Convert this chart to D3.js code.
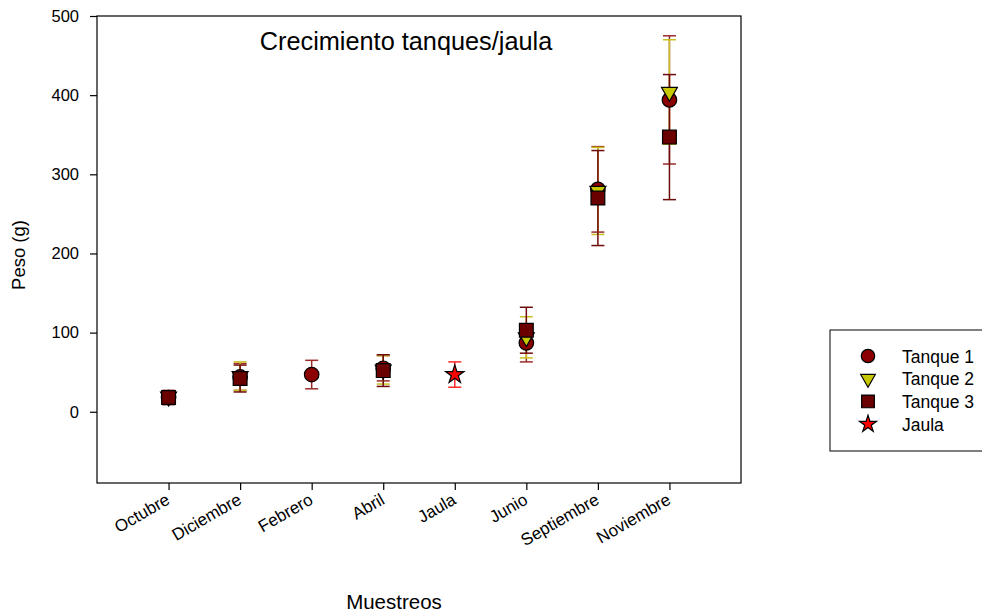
<!DOCTYPE html>
<html lang="es">
<head>
<meta charset="UTF-8">
<title>Crecimiento tanques/jaula</title>
<style>
    body { margin: 0; background: #fff; }
    svg { display: block; font-family: "Liberation Sans", Arial, sans-serif; }
</style>
</head>
<body>
<div id="chart"></div>
<script src="https://cdn.jsdelivr.net/npm/d3@7"></script>
<script>
// categories along the x axis
const categories = ["Octubre", "Diciembre", "Febrero", "Abril", "Jaula", "Junio", "Septiembre", "Noviembre"];

// mean weights (g) and error for each group, null = not sampled
const tanque1 = [18, 44, 47, 55, null, 87, 281, 394];
const tanque1Err = [7, 17, 18, 16, null, 24, 54, 81];
const tanque2 = [19, 45, null, 53, null, 94, 279, 404];
const tanque2Err = [7, 18, null, 18, null, 26, 55, 66];
const tanque3 = [18, 42, null, 52, null, 103, 270, 347];
const tanque3Err = [9, 17, null, 20, null, 29, 60, 79];
const jaula = [null, null, null, null, 47, null, null, null];
const jaulaErr = [null, null, null, null, 16, null, null, null];

const yTicks = [0, 100, 200, 300, 400, 500];

const series = [
    { name: "Tanque 1", values: tanque1, err: tanque1Err, fill: "#8b0000", bar: "#9a2b2b", symbol: d3.symbolCircle, size: 165, rotate: 0 },
    { name: "Tanque 2", values: tanque2, err: tanque2Err, fill: "#c8c800", bar: "#c8c020", symbol: d3.symbolTriangle, size: 110, rotate: 180 },
    { name: "Tanque 3", values: tanque3, err: tanque3Err, fill: "#6b0000", bar: "#6e0a0a", symbol: d3.symbolSquare, size: 190, rotate: 0 },
    { name: "Jaula", values: jaula, err: jaulaErr, fill: "#ff0000", bar: "#ff2a2a", symbol: d3.symbolStar, size: 105, rotate: 0 }
];

const svg = d3.select("#chart").append("svg")
    .attr("width", 982)
    .attr("height", 613);

const plotLeft = 97, plotRight = 741, plotTop = 16, plotBottom = 483;

const x = d3.scaleLinear().domain([0, categories.length + 1]).range([plotLeft, plotRight]);
const y = d3.scaleLinear().domain([-90, 500]).range([plotBottom, plotTop]);

// frame
svg.append("rect")
    .attr("x", plotLeft).attr("y", plotTop)
    .attr("width", plotRight - plotLeft).attr("height", plotBottom - plotTop)
    .attr("fill", "none").attr("stroke", "#000").attr("stroke-width", 1.2);

// y axis
const yAxis = svg.append("g")
    .attr("transform", `translate(${plotLeft},0)`)
    .call(d3.axisLeft(y).tickValues(yTicks).tickSize(7).tickPadding(11).tickFormat(d3.format("d")));
yAxis.select(".domain").remove();
yAxis.selectAll("line").attr("stroke", "#000").attr("stroke-width", 1.2);
yAxis.selectAll("text").attr("font-size", 16.5).attr("fill", "#000")
    .style("font-family", "'Liberation Sans', Arial, sans-serif");

// x axis
const xAxis = svg.append("g")
    .attr("transform", `translate(0,${plotBottom})`)
    .call(d3.axisBottom(x).tickValues(d3.range(1, categories.length + 1)).tickSize(7)
        .tickFormat(d => categories[d - 1]));
xAxis.select(".domain").remove();
xAxis.selectAll("line").attr("stroke", "#000").attr("stroke-width", 1.2);
xAxis.selectAll("text")
    .attr("font-size", 17).attr("fill", "#000")
    .style("font-family", "'Liberation Sans', Arial, sans-serif")
    .attr("text-anchor", "end")
    .attr("dy", 0).attr("y", 0)
    .attr("transform", "translate(2,20) rotate(-30)");

// axis titles
svg.append("text")
    .attr("transform", "translate(25,255) rotate(-90)")
    .attr("text-anchor", "middle")
    .attr("font-size", 18.5)
    .text("Peso (g)");

svg.append("text")
    .attr("x", 394).attr("y", 609)
    .attr("text-anchor", "middle")
    .attr("font-size", 20.5)
    .text("Muestreos");

svg.append("text")
    .attr("x", 406).attr("y", 50)
    .attr("text-anchor", "middle")
    .attr("font-size", 25.3)
    .text("Crecimiento tanques/jaula");

// error bars
series.forEach(s => {
    const pts = s.values.map((v, i) => ({ i: i + 1, v: v, e: s.err[i] })).filter(d => d.v !== null);
    const g = svg.append("g").attr("stroke", s.bar).attr("stroke-width", 1.5);
    pts.forEach(d => {
        g.append("line").attr("x1", x(d.i)).attr("x2", x(d.i))
            .attr("y1", y(d.v - d.e)).attr("y2", y(d.v + d.e));
        [d.v - d.e, d.v + d.e].forEach(c => {
            g.append("line").attr("x1", x(d.i) - 6.5).attr("x2", x(d.i) + 6.5)
                .attr("y1", y(c)).attr("y2", y(c));
        });
    });
});

// markers
series.forEach(s => {
    const pts = s.values.map((v, i) => ({ i: i + 1, v: v })).filter(d => d.v !== null);
    svg.append("g").selectAll("path")
        .data(pts)
        .enter().append("path")
        .attr("d", d3.symbol().type(s.symbol).size(s.size))
        .attr("transform", d => `translate(${x(d.i)},${y(d.v)}) rotate(${s.rotate})`)
        .attr("fill", s.fill)
        .attr("stroke", "#000")
        .attr("stroke-width", 1.2);
});

// legend
const legend = svg.append("g").attr("transform", "translate(830,330)");
legend.append("rect")
    .attr("width", 160).attr("height", 121)
    .attr("fill", "#fff").attr("stroke", "#000").attr("stroke-width", 1);

series.forEach((s, i) => {
    const row = legend.append("g").attr("transform", `translate(0,${26 + i * 22.7})`);
    row.append("path")
        .attr("d", d3.symbol().type(s.symbol).size(s.size * 0.85))
        .attr("transform", `translate(38,0) rotate(${s.rotate})`)
        .attr("fill", s.fill)
        .attr("stroke", "#000")
        .attr("stroke-width", 1.2);
    row.append("text")
        .attr("x", 72).attr("y", 6.5)
        .attr("font-size", 17.5)
        .text(s.name);
});
</script>
</body>
</html>
